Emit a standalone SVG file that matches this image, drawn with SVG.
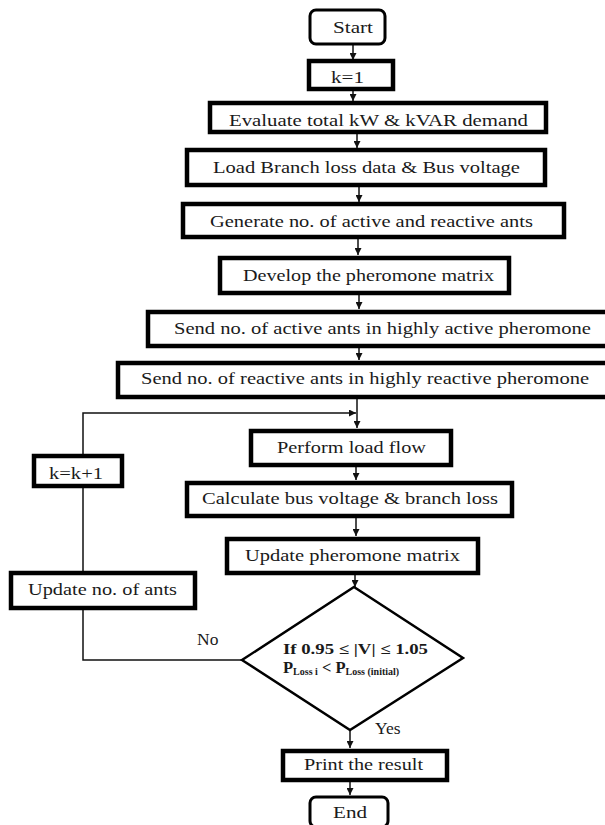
<svg xmlns="http://www.w3.org/2000/svg" width="605" height="825" viewBox="0 0 605 825">
<defs>
<marker id="ah" viewBox="0 0 10 10" refX="10" refY="5" markerWidth="7" markerHeight="7" markerUnits="userSpaceOnUse" orient="auto">
<path d="M0,0 L10,5 L0,10 z" fill="#111"/>
</marker>
<style>
.box{fill:#fff;stroke:#000;stroke-width:4.5}
.rbox{fill:#fff;stroke:#000;stroke-width:3}
.t{font-family:"Liberation Serif","Times New Roman",serif;font-size:17.5px;fill:#1a1a1a}
.b{font-family:"Liberation Serif","Times New Roman",serif;font-size:15px;font-weight:bold;fill:#1a1a1a}
.c{fill:none;stroke:#111;stroke-width:1.5}
</style>
</defs>
<rect width="605" height="825" fill="#fff"/>
<g id="connectors">
<line class="c" x1="353" y1="45" x2="353" y2="60" marker-end="url(#ah)"/>
<line class="c" x1="353" y1="90" x2="353" y2="101" marker-end="url(#ah)"/>
<line class="c" x1="357" y1="133" x2="357" y2="148" marker-end="url(#ah)"/>
<line class="c" x1="359" y1="186" x2="359" y2="202" marker-end="url(#ah)"/>
<line class="c" x1="358" y1="238" x2="358" y2="255" marker-end="url(#ah)"/>
<line class="c" x1="359" y1="294" x2="359" y2="309" marker-end="url(#ah)"/>
<line class="c" x1="359" y1="347" x2="359" y2="360" marker-end="url(#ah)"/>
<line class="c" x1="357" y1="398" x2="357" y2="428" marker-end="url(#ah)"/>
<line class="c" x1="356" y1="466" x2="356" y2="480" marker-end="url(#ah)"/>
<line class="c" x1="356" y1="517" x2="356" y2="536" marker-end="url(#ah)"/>
<line class="c" x1="355" y1="574" x2="355" y2="587" marker-end="url(#ah)"/>
<line class="c" x1="350" y1="730" x2="350" y2="748" marker-end="url(#ah)"/>
<line class="c" x1="350" y1="781" x2="350" y2="795" marker-end="url(#ah)"/>
<polyline class="c" points="242,660 83,660 83,413 356,413" marker-end="url(#ah)"/>
<text class="t" x="197" y="645">No</text>
<text class="t" x="375" y="734">Yes</text>
</g>
<g id="start"><rect class="rbox" x="310" y="10" width="75" height="34" rx="6"/><text class="t" x="353" y="33" text-anchor="middle" textLength="40" lengthAdjust="spacingAndGlyphs">Start</text></g>
<g id="k1"><rect class="box" x="309" y="61" width="84" height="28"/><text class="t" x="347.5" y="83" text-anchor="middle" textLength="33" lengthAdjust="spacingAndGlyphs">k=1</text></g>
<g id="evaluate"><rect class="box" x="210" y="103" width="336" height="29"/><text class="t" x="378.5" y="126" text-anchor="middle" textLength="299" lengthAdjust="spacingAndGlyphs">Evaluate total kW &amp; kVAR demand</text></g>
<g id="load"><rect class="box" x="187" y="150" width="358" height="35"/><text class="t" x="366.5" y="173" text-anchor="middle" textLength="307" lengthAdjust="spacingAndGlyphs">Load Branch loss data &amp; Bus voltage</text></g>
<g id="generate"><rect class="box" x="183" y="204" width="381" height="33"/><text class="t" x="371.5" y="227" text-anchor="middle" textLength="323" lengthAdjust="spacingAndGlyphs">Generate no. of active and reactive ants</text></g>
<g id="develop"><rect class="box" x="220" y="258" width="289" height="35"/><text class="t" x="368.5" y="281" text-anchor="middle" textLength="251" lengthAdjust="spacingAndGlyphs">Develop the pheromone matrix</text></g>
<g id="sendactive"><rect class="box" x="148" y="312" width="462" height="34"/><text class="t" x="382.5" y="334" text-anchor="middle" textLength="417" lengthAdjust="spacingAndGlyphs">Send no. of active ants in highly active pheromone</text></g>
<g id="sendreactive"><rect class="box" x="118" y="363" width="492" height="34"/><text class="t" x="365" y="384" text-anchor="middle" textLength="448" lengthAdjust="spacingAndGlyphs">Send no. of reactive ants in highly reactive pheromone</text></g>
<g id="perform"><rect class="box" x="251" y="431" width="200" height="34"/><text class="t" x="351.5" y="453" text-anchor="middle" textLength="149" lengthAdjust="spacingAndGlyphs">Perform load flow</text></g>
<g id="calculate"><rect class="box" x="187" y="483" width="325" height="33"/><text class="t" x="350" y="504" text-anchor="middle" textLength="296" lengthAdjust="spacingAndGlyphs">Calculate bus voltage &amp; branch loss</text></g>
<g id="updatepher"><rect class="box" x="227" y="539" width="251" height="34"/><text class="t" x="352.5" y="561" text-anchor="middle" textLength="215" lengthAdjust="spacingAndGlyphs">Update pheromone matrix</text></g>
<g id="kk1"><rect class="box" x="34" y="456" width="88" height="30"/><text class="t" x="76" y="479" text-anchor="middle" textLength="54" lengthAdjust="spacingAndGlyphs">k=k+1</text></g>
<g id="updateants"><rect class="box" x="11" y="573" width="184" height="35"/><text class="t" x="102.5" y="595" text-anchor="middle" textLength="149" lengthAdjust="spacingAndGlyphs">Update no. of ants</text></g>
<g id="decision"><polygon points="354,587 463,658 350,730 242,660" fill="#fff" stroke="#000" stroke-width="2.5"/>
<text class="b" x="283" y="654" textLength="145" lengthAdjust="spacingAndGlyphs">If 0.95 ≤ |V| ≤ 1.05</text>
<text class="b" x="283" y="673" style="font-size:16.5px">P<tspan style="font-size:10px" dy="2">Loss i</tspan><tspan dy="-2"> &lt; P</tspan><tspan style="font-size:10px" dy="2">Loss (initial)</tspan></text>
</g>
<g id="print"><rect class="box" x="283" y="751" width="164" height="29"/><text class="t" x="363.5" y="770" text-anchor="middle" textLength="119" lengthAdjust="spacingAndGlyphs">Print the result</text></g>
<g id="end"><rect class="rbox" x="310" y="797" width="78" height="30" rx="6"/><text class="t" x="350" y="818" text-anchor="middle" textLength="34" lengthAdjust="spacingAndGlyphs">End</text></g>
</svg>
